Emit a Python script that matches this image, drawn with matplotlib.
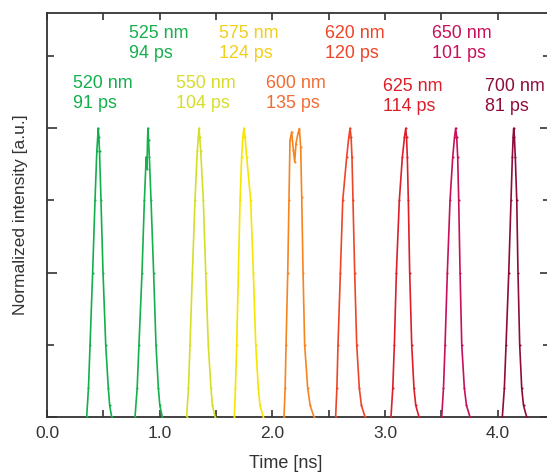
import matplotlib
matplotlib.use("Agg")
import matplotlib.pyplot as plt
from matplotlib.ticker import MultipleLocator, FixedLocator

plt.rcParams['font.family'] = ['Liberation Sans', 'DejaVu Sans']

# wavelength labels and measured pulse widths
wavelengths = [520, 525, 550, 575, 600, 620, 625, 650, 700]
widths_ps = [91, 94, 104, 124, 135, 120, 114, 101, 81]
colors = ['#12b04c', '#16b04c', '#d6de2a', '#f6e500', '#f7841f',
          '#ee4427', '#dc1f2a', '#c8105a', '#8e0c3c']
label_colors = ['#12b04c', '#16b04c', '#d6de2a', '#f2cf1a', '#f26b34',
                '#ee4427', '#dc1f2a', '#c8105a', '#8e0c3c']

# pulse traces (time in ns, normalized intensity)
t520 = [0.352, 0.368, 0.382, 0.405, 0.426, 0.442, 0.450, 0.455, 0.460, 0.466,
        0.479, 0.497, 0.521, 0.544, 0.556, 0.574]
i520 = [0.0, 0.1, 0.25, 0.5, 0.75, 0.92, 0.97, 1.0, 0.97, 0.92,
        0.75, 0.5, 0.25, 0.1, 0.04, 0.0]
t525 = [0.781, 0.800, 0.816, 0.843, 0.864, 0.880, 0.887, 0.892, 0.896, 0.901, 0.908,
        0.923, 0.946, 0.967, 0.988, 1.001, 1.023]
i525 = [0.0, 0.1, 0.25, 0.5, 0.75, 0.9, 0.86, 0.96, 1.0, 0.96, 0.9,
        0.75, 0.5, 0.25, 0.1, 0.04, 0.0]
t550 = [1.239, 1.255, 1.269, 1.290, 1.313, 1.333, 1.343, 1.349, 1.355, 1.364,
        1.387, 1.408, 1.431, 1.455, 1.468, 1.491]
i550 = [0.0, 0.1, 0.25, 0.5, 0.75, 0.92, 0.97, 1.0, 0.97, 0.92,
        0.75, 0.5, 0.25, 0.1, 0.04, 0.0]
t575 = [1.662, 1.672, 1.683, 1.698, 1.713, 1.727, 1.738, 1.748, 1.757, 1.772,
        1.807, 1.831, 1.852, 1.875, 1.890, 1.919]
i575 = [0.0, 0.1, 0.25, 0.5, 0.75, 0.9, 0.97, 1.0, 0.97, 0.9,
        0.75, 0.5, 0.25, 0.1, 0.04, 0.0]
t600 = [2.103, 2.113, 2.121, 2.136, 2.147, 2.156, 2.171, 2.186, 2.198, 2.209, 2.227, 2.239,
        2.251, 2.260, 2.272, 2.286, 2.313, 2.335, 2.369]
i600 = [0.0, 0.1, 0.25, 0.5, 0.75, 0.958, 0.987, 0.924, 0.883, 0.947, 0.982, 0.999,
        0.935, 0.762, 0.5, 0.25, 0.1, 0.04, 0.0]
t620 = [2.561, 2.572, 2.582, 2.603, 2.624, 2.659, 2.678, 2.689, 2.698, 2.706,
        2.715, 2.730, 2.748, 2.771, 2.790, 2.822]
i620 = [0.0, 0.1, 0.25, 0.5, 0.75, 0.9, 0.97, 1.0, 0.97, 0.9,
        0.75, 0.5, 0.25, 0.1, 0.04, 0.0]
t625 = [3.052, 3.068, 3.082, 3.100, 3.126, 3.153, 3.172, 3.183, 3.190, 3.197,
        3.206, 3.218, 3.236, 3.256, 3.272, 3.301]
i625 = [0.0, 0.1, 0.25, 0.5, 0.75, 0.9, 0.97, 1.0, 0.97, 0.9,
        0.75, 0.5, 0.25, 0.1, 0.04, 0.0]
t650 = [3.502, 3.518, 3.532, 3.552, 3.576, 3.600, 3.616, 3.626, 3.635, 3.644,
        3.653, 3.665, 3.680, 3.703, 3.722, 3.753]
i650 = [0.0, 0.1, 0.25, 0.5, 0.75, 0.9, 0.97, 1.0, 0.97, 0.9,
        0.75, 0.5, 0.25, 0.1, 0.04, 0.0]
t700 = [4.040, 4.058, 4.073, 4.097, 4.117, 4.129, 4.136, 4.141, 4.147, 4.155,
        4.168, 4.179, 4.194, 4.212, 4.228, 4.256]
i700 = [0.0, 0.1, 0.25, 0.5, 0.75, 0.9, 0.97, 1.0, 0.97, 0.9,
        0.75, 0.5, 0.25, 0.1, 0.04, 0.0]

times = [t520, t525, t550, t575, t600, t620, t625, t650, t700]
intens = [i520, i525, i550, i575, i600, i620, i625, i650, i700]

# label anchor (left, top) in data units
label_x = [0.231, 0.728, 1.145, 1.526, 1.943, 2.467, 2.982, 3.419, 3.886]
label_y = [1.185, 1.358, 1.185, 1.358, 1.185, 1.358, 1.175, 1.358, 1.175]

fig = plt.figure(figsize=(5.47, 4.73), dpi=100)
ax = fig.add_axes([47 / 547, 56 / 473, 503 / 547, 404.3 / 473])

for t, i, c in zip(times, intens, colors):
    ax.plot(t, i, color=c, lw=1.2, marker='o', ms=1.5, mew=0, zorder=3)

for x, y, wl, w, c in zip(label_x, label_y, wavelengths, widths_ps, label_colors):
    ax.text(x, y, f"{wl} nm\n{w} ps", color=c, fontsize=12.9,
            ha='left', va='top', linespacing=1.25)

ax.set_xlim(0, 4.463)
ax.set_ylim(0, 1.4)

ax.set_xticks([0, 1, 2, 3, 4])
ax.set_xticklabels(['0.0', '1.0', '2.0', '3.0', '4.0'])
ax.xaxis.set_minor_locator(FixedLocator([0.5, 1.5, 2.5, 3.5]))
ax.yaxis.set_major_locator(MultipleLocator(0.5))
ax.yaxis.set_minor_locator(MultipleLocator(0.25))
ax.set_yticklabels([])

ax.tick_params(which='both', direction='in', top=True, right=True,
               color='#333333', width=1.2)
ax.tick_params(axis='x', which='both', length=5, labelsize=12.5,
               labelcolor='#333333', pad=6.5)
ax.tick_params(axis='y', which='major', length=7)
ax.tick_params(axis='y', which='minor', length=5)

for s in ax.spines.values():
    s.set_color('#333333')
    s.set_linewidth(1.3)

ax.set_xlabel('Time [ns]', fontsize=13, color='#333333')
ax.xaxis.set_label_coords(0.474, -0.094)
ax.xaxis.label.set_va('top')
ax.set_ylabel('Normalized intensity [a.u.]', fontsize=12.5, color='#333333')
ax.yaxis.set_label_coords(-0.038, 0.5)

fig.savefig('out.png', dpi=100)
